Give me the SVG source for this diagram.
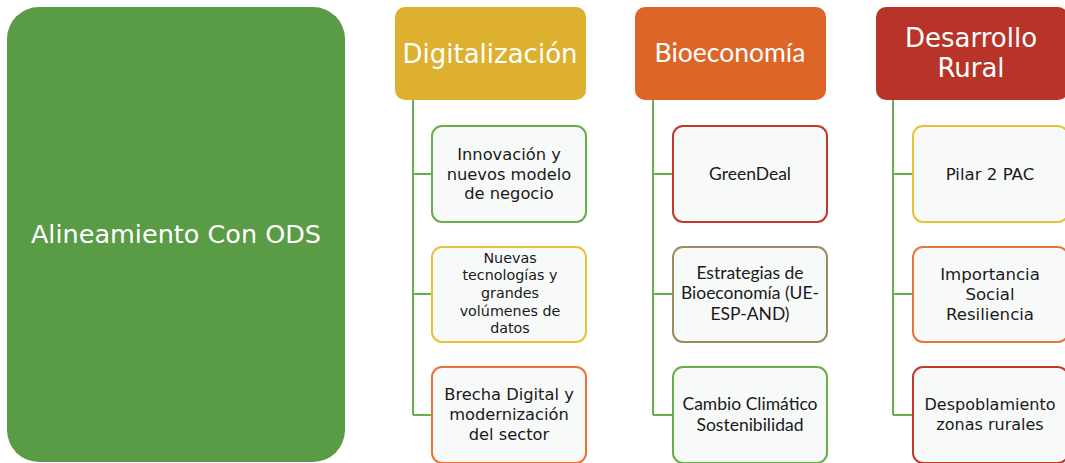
<svg xmlns="http://www.w3.org/2000/svg" width="1065" height="463" viewBox="0 0 1065 463">
<style>
.hd{font-family:"DejaVu Sans",sans-serif;fill:#fff;text-anchor:middle}
.hc{font-family:Lato,"Liberation Sans",sans-serif;fill:#fff;text-anchor:middle}
.ch{fill:#f8f9f9;stroke-width:2}
.t{font-family:"DejaVu Sans",sans-serif;fill:#1a1a1a;text-anchor:middle}
.tc{font-family:Lato,"Liberation Sans",sans-serif;fill:#1a1a1a;text-anchor:middle}
.cn{fill:none;stroke:#6aad4b;stroke-width:2}
</style>
<rect width="1065" height="463" fill="#fff"/>
<g id="connectors">
<path class="cn" d="M413 100V415M413 174H432M413 294H432M413 415H432"/>
<path class="cn" d="M653 100V415M653 174H673M653 294H673M653 415H673"/>
<path class="cn" d="M893 100V415M893 174H913M893 294H913M893 415H913"/>
</g>
<g id="ods">
<rect x="7" y="7" width="338" height="455" rx="32" fill="#5a9b46"/>
<text class="hd" x="176" y="243" font-size="25.5">Alineamiento Con ODS</text>
</g>
<g id="digitalizacion">
<rect x="395" y="7" width="191" height="93" rx="10" fill="#ddb12f"/>
<text class="hd" x="490" y="63" font-size="26">Digitalización</text>
</g>
<g id="bioeconomia">
<rect x="635" y="7" width="191" height="93" rx="10" fill="#dd6527"/>
<text class="hc" x="730" y="62" font-size="26.5">Bioeconomía</text>
</g>
<g id="desarrollo">
<rect x="876" y="7" width="192" height="93" rx="10" fill="#b83428"/>
<text class="hd" x="971" y="47" font-size="26">Desarrollo</text>
<text class="hd" x="971" y="77" font-size="26">Rural</text>
</g>
<g id="innovacion">
<rect class="ch" x="432" y="126" width="154" height="96" rx="10" stroke="#6aad4b"/>
<text class="t" x="509" y="160" font-size="16.3">Innovación y</text>
<text class="t" x="509" y="180" font-size="16.3">nuevos modelo</text>
<text class="t" x="509" y="199" font-size="16.3">de negocio</text>
</g>
<g id="nuevas">
<rect class="ch" x="432" y="247" width="154" height="95" rx="10" stroke="#e8c13a"/>
<text class="t" x="510" y="263" font-size="14.3">Nuevas</text>
<text class="t" x="510" y="280" font-size="14.3">tecnologías y</text>
<text class="t" x="510" y="298" font-size="14.3">grandes</text>
<text class="t" x="510" y="316" font-size="14.3">volúmenes de</text>
<text class="t" x="510" y="333" font-size="14.3">datos</text>
</g>
<g id="brecha">
<rect class="ch" x="432" y="367" width="154" height="96" rx="10" stroke="#e8743b"/>
<text class="t" x="509" y="400" font-size="16.3">Brecha Digital y</text>
<text class="t" x="509" y="420" font-size="16.3">modernización</text>
<text class="t" x="509" y="440" font-size="16.3">del sector</text>
</g>
<g id="greendeal">
<rect class="ch" x="673" y="126" width="154" height="96" rx="10" stroke="#c0392b"/>
<text class="tc" x="750" y="180" font-size="17.5">GreenDeal</text>
</g>
<g id="estrategias">
<rect class="ch" x="673" y="247" width="154" height="95" rx="10" stroke="#9c8b5e"/>
<text class="tc" x="750" y="279" font-size="17.5">Estrategias de</text>
<text class="tc" x="750" y="299" font-size="17.5">Bioeconomía (UE-</text>
<text class="tc" x="750" y="320" font-size="17.5">ESP-AND)</text>
</g>
<g id="cambio">
<rect class="ch" x="673" y="367" width="154" height="96" rx="10" stroke="#6aad4b"/>
<text class="tc" x="750" y="410" font-size="17.5">Cambio Climático</text>
<text class="tc" x="750" y="431" font-size="17.5">Sostenibilidad</text>
</g>
<g id="pilar">
<rect class="ch" x="913" y="126" width="155" height="96" rx="10" stroke="#e8c13a"/>
<text class="t" x="990" y="180" font-size="16.6">Pilar 2 PAC</text>
</g>
<g id="importancia">
<rect class="ch" x="913" y="247" width="155" height="95" rx="10" stroke="#e8743b"/>
<text class="t" x="990" y="280" font-size="16.6">Importancia</text>
<text class="t" x="990" y="300" font-size="16.6">Social</text>
<text class="t" x="990" y="320" font-size="16.6">Resiliencia</text>
</g>
<g id="despoblamiento">
<rect class="ch" x="913" y="367" width="155" height="96" rx="10" stroke="#c0392b"/>
<text class="t" x="990" y="410" font-size="16">Despoblamiento</text>
<text class="t" x="990" y="430" font-size="16">zonas rurales</text>
</g>
</svg>
